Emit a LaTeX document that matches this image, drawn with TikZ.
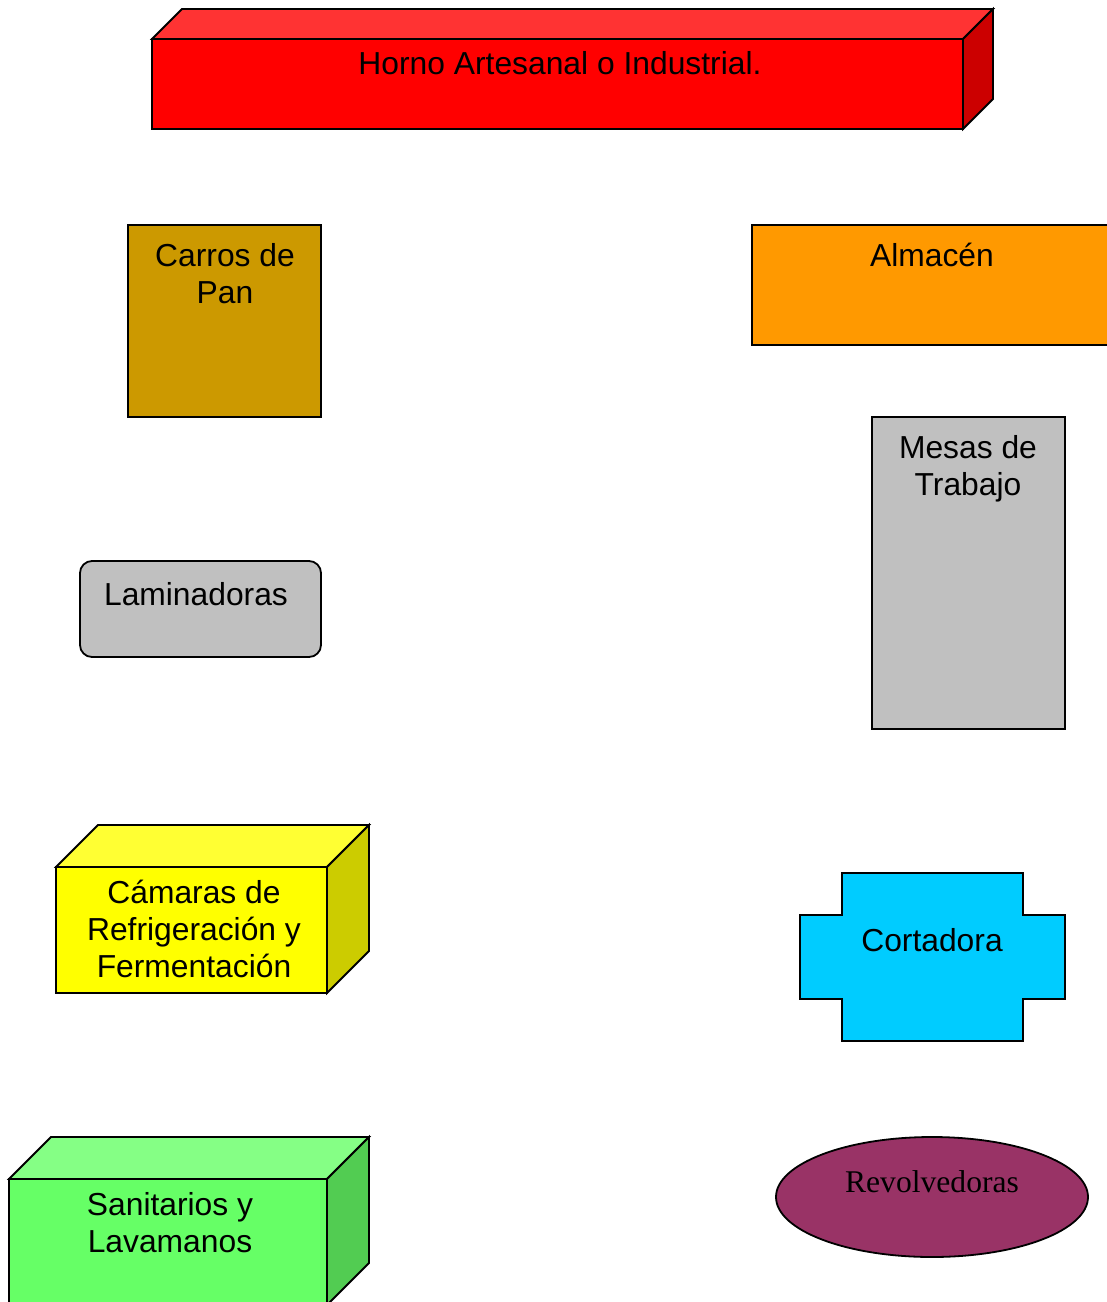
\documentclass[tikz,border=0pt]{standalone}
\usepackage{fontspec}
\setmainfont{Liberation Sans}
\newfontfamily\serifface{Liberation Serif}
\usetikzlibrary{shapes.geometric}
\definecolor{hornoF}{HTML}{FF0000}
\definecolor{hornoT}{HTML}{FF3333}
\definecolor{hornoS}{HTML}{CC0000}
\definecolor{carro}{HTML}{CC9900}
\definecolor{almacen}{HTML}{FF9900}
\definecolor{gris}{HTML}{C0C0C0}
\definecolor{camF}{HTML}{FFFF00}
\definecolor{camT}{HTML}{FFFF33}
\definecolor{camS}{HTML}{CCCC00}
\definecolor{cort}{HTML}{00CCFF}
\definecolor{sanF}{HTML}{66FF66}
\definecolor{sanT}{HTML}{85FF85}
\definecolor{sanS}{HTML}{52CC52}
\definecolor{revol}{HTML}{993366}
\tikzset{
  shp/.style={draw=black, line width=1.8pt, line join=miter},
  lbl/.style={font=\fontsize{31.8}{37}\selectfont, align=center, inner sep=0pt, anchor=base, text=black},
  slbl/.style={font=\serifface\fontsize{31.6}{37}\selectfont, align=center, inner sep=0pt, anchor=base, text=black}
}
\begin{document}
\begin{tikzpicture}[x=1pt,y=-1pt]
\useasboundingbox (0,0) rectangle (1107,1302);
\begin{scope}
\clip (0,0) rectangle (1107,1302);
% Horno 3D box
\path[shp, fill=hornoT] (152,39) -- (182,9) -- (993,9) -- (963,39) -- cycle;
\path[shp, fill=hornoS] (963,39) -- (993,9) -- (993,99) -- (963,129) -- cycle;
\path[shp, fill=hornoF] (152,39) rectangle (963,129);
\node[lbl] (horno) at (560,74) {Horno Artesanal o Industrial.};
% Carros de Pan
\path[shp, fill=carro] (128,225) rectangle (321,417);
\node[lbl] (carros) at (225,303) {Carros de\\Pan};
% Almacen
\path[shp, fill=almacen] (752,225) rectangle (1113,345);
\node[lbl] (almacen) at (932,266) {Almacén};
% Mesas de Trabajo
\path[shp, fill=gris] (872,417) rectangle (1065,729);
\node[lbl] (mesas) at (968,495) {Mesas de\\Trabajo};
% Laminadoras
\path[shp, fill=gris, rounded corners=12pt] (80,561) rectangle (321,657);
\node[lbl] (lamin) at (196,605) {Laminadoras};
% Camaras 3D box
\path[shp, fill=camT] (56,867) -- (98,825) -- (369,825) -- (327,867) -- cycle;
\path[shp, fill=camS] (327,867) -- (369,825) -- (369,951) -- (327,993) -- cycle;
\path[shp, fill=camF] (56,867) rectangle (327,993);
\node[lbl] (camaras) at (194,977) {Cámaras de\\Refrigeración y\\Fermentación};
% Cortadora
\path[shp, fill=cort] (842,873) -- (1023,873) -- (1023,915) -- (1065,915) -- (1065,999) -- (1023,999) -- (1023,1041) -- (842,1041) -- (842,999) -- (800,999) -- (800,915) -- (842,915) -- cycle;
\node[lbl] (cortadora) at (932,951) {Cortadora};
% Sanitarios 3D box
\path[shp, fill=sanT] (9,1179) -- (51,1137) -- (369,1137) -- (327,1179) -- cycle;
\path[shp, fill=sanS] (327,1179) -- (369,1137) -- (369,1263) -- (327,1305) -- cycle;
\path[shp, fill=sanF] (9,1179) rectangle (327,1310);
\node[lbl] (sanitarios) at (170,1252) {Sanitarios y\\Lavamanos};
% Revolvedoras
\path[shp, fill=revol] (932,1197) ellipse [x radius=156, y radius=60];
\node[slbl] (revolv) at (932,1192) {Revolvedoras};
\end{scope}
\end{tikzpicture}
\end{document}
